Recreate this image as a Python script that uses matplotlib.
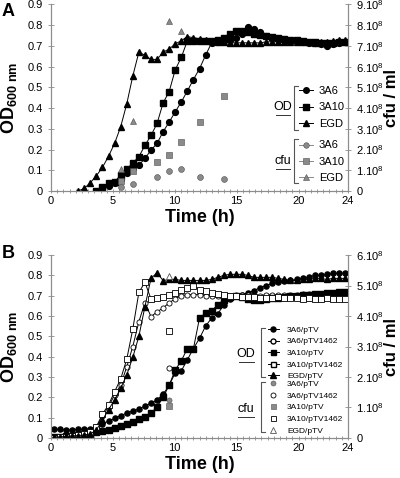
import matplotlib
matplotlib.use('Agg')
import matplotlib.pyplot as plt
from matplotlib.lines import Line2D
from matplotlib.ticker import MultipleLocator, FixedLocator, FuncFormatter

plt.rcParams['font.family'] = ['Liberation Sans', 'DejaVu Sans']
plt.rcParams['mathtext.fontset'] = 'custom'
plt.rcParams['mathtext.rm'] = 'Liberation Sans'
plt.rcParams['mathtext.bf'] = 'Liberation Sans:bold'

# sampling times (h) of the plate reader, same for every culture
t = [0.24, 0.73, 1.22, 1.71, 2.20, 2.69, 3.18, 3.67, 4.16, 4.65,
     5.14, 5.63, 6.12, 6.61, 7.10, 7.59, 8.08, 8.57, 9.06, 9.55,
     10.04, 10.53, 11.02, 11.51, 12.00, 12.49, 12.98, 13.47, 13.96, 14.45,
     14.94, 15.43, 15.92, 16.41, 16.90, 17.39, 17.88, 18.37, 18.86, 19.35,
     19.84, 20.33, 20.82, 21.31, 21.80, 22.29, 22.78, 23.27, 23.76]

# ---- panel A : OD600 ----
od_3a6_a = [0.008, 0.025, 0.04, 0.06, 0.085, 0.109, 0.125, 0.157, 0.197, 0.23,
            0.286, 0.333, 0.382, 0.43, 0.483, 0.538, 0.59, 0.655, 0.715, 0.72,
            0.725, 0.73, 0.74, 0.76, 0.79, 0.78, 0.765, 0.75, 0.74, 0.735,
            0.73, 0.725, 0.725, 0.72, 0.715, 0.715, 0.71, 0.70, 0.71, 0.715, 0.72]
od_3a10_a = [0.002, 0.02, 0.04, 0.045, 0.077, 0.104, 0.136, 0.165, 0.22, 0.268,
             0.326, 0.425, 0.48, 0.585, 0.645, 0.725, 0.725, 0.725, 0.725, 0.725,
             0.73, 0.74, 0.76, 0.77, 0.77, 0.765, 0.76, 0.755, 0.75, 0.745,
             0.74, 0.735, 0.73, 0.73, 0.725, 0.72, 0.72, 0.715, 0.715, 0.715, 0.72, 0.72]
od_egd_a = [0.0, 0.013, 0.04, 0.074, 0.114, 0.168, 0.23, 0.31, 0.42, 0.555,
            0.67, 0.655, 0.635, 0.635, 0.67, 0.685, 0.71, 0.725,
            0.745, 0.74, 0.735, 0.73, 0.725, 0.72, 0.72, 0.715, 0.715, 0.715,
            0.715, 0.715, 0.715, 0.72, 0.72, 0.72, 0.72, 0.72, 0.72, 0.72,
            0.72, 0.715, 0.72, 0.72, 0.725, 0.73, 0.73]
t_3a6_a = t[8:]
t_3a10_a = t[7:]
t_egd_a = t[4:]

# panel A : cfu (x 10^8 / ml)
cfu_t_a = [5.63, 6.61, 8.57, 9.55, 10.53, 12.00, 13.96]
cfu_3a6_a = [0.18, 0.35, 0.69, 0.96, 1.06, 0.69, 0.58]
cfu_3a10_a = [0.50, 0.98, 1.41, 1.73, 2.38, 3.31, 4.59]
cfu_t_egd_a = [5.63, 6.61, 9.55, 10.53]
cfu_egd_a = [1.06, 3.39, 8.2, 7.72]

# ---- panel B : OD600 ----
od_3a6_ptv = [0.045, 0.042, 0.040, 0.040, 0.042, 0.044, 0.046, 0.054, 0.07, 0.083,
              0.096, 0.11, 0.122, 0.133, 0.143, 0.157, 0.17, 0.187, 0.215, 0.26,
              0.32, 0.33, 0.385, 0.44, 0.49, 0.55, 0.59, 0.61, 0.655, 0.685,
              0.70, 0.705, 0.715, 0.725, 0.74, 0.75, 0.76, 0.765, 0.77, 0.775,
              0.78, 0.785, 0.79, 0.80, 0.80, 0.805, 0.81, 0.81, 0.81]
od_3a6_1462 = [0.005, 0.005, 0.008, 0.01, 0.015, 0.02, 0.03, 0.049, 0.109, 0.154,
               0.212, 0.26, 0.35, 0.45, 0.572, 0.666, 0.597, 0.62, 0.64, 0.665,
               0.685, 0.70, 0.705, 0.705, 0.705, 0.70, 0.70, 0.70, 0.70, 0.70,
               0.705, 0.705, 0.705, 0.70, 0.70, 0.705, 0.705, 0.705, 0.705, 0.705,
               0.705, 0.71, 0.71, 0.71, 0.71, 0.705, 0.705, 0.71, 0.71]
od_3a10_ptv = [0.005, 0.006, 0.008, 0.010, 0.013, 0.02, 0.023, 0.028, 0.036, 0.039,
               0.051, 0.059, 0.067, 0.077, 0.092, 0.105, 0.121, 0.154, 0.2, 0.26,
               0.335, 0.38, 0.44, 0.44, 0.59, 0.615, 0.625, 0.655, 0.68, 0.695,
               0.70, 0.695, 0.685, 0.68, 0.68, 0.685, 0.69, 0.69, 0.695, 0.70,
               0.70, 0.705, 0.705, 0.71, 0.71, 0.715, 0.715, 0.72, 0.72]
od_3a10_1462 = [0.0, 0.003, 0.006, 0.01, 0.015, 0.02, 0.03, 0.056, 0.118, 0.163,
                0.228, 0.29, 0.387, 0.536, 0.716, 0.766, 0.684, 0.687, 0.695, 0.704,
                0.712, 0.729, 0.74, 0.746, 0.73, 0.721, 0.715, 0.71, 0.705, 0.70,
                0.70, 0.695, 0.695, 0.695, 0.69, 0.69, 0.69, 0.695, 0.69, 0.69,
                0.69, 0.685, 0.69, 0.685, 0.685, 0.69, 0.685, 0.685, 0.685]
od_egd_ptv = [0.005, 0.005, 0.008, 0.01, 0.012, 0.015, 0.02, 0.04, 0.088, 0.14,
              0.187, 0.245, 0.31, 0.397, 0.5, 0.646, 0.785, 0.813, 0.774,
              0.78, 0.78, 0.775, 0.775, 0.775, 0.775, 0.775, 0.78, 0.79, 0.80,
              0.805, 0.805, 0.805, 0.80, 0.79, 0.79, 0.79, 0.79, 0.785, 0.78,
              0.775, 0.775, 0.78, 0.78, 0.785, 0.785, 0.78, 0.785, 0.785, 0.785]

# panel B : cfu (x 10^8 / ml), single sampling
cfu_t_b = [9.55]
cfu_3a6_ptv = [1.25]
cfu_3a6_1462 = [2.29]
cfu_3a10_ptv = [1.05]
cfu_3a10_1462 = [3.5]
cfu_egd_ptv = [5.3]

GREY = '#8a8a8a'
GREY_EDGE = '#4d4d4d'
SPINE = '#8c8c8c'


def cfu_fmt(v, pos):
    if v == 0:
        return '0'
    return r'$\mathrm{%d.10}^{8}$' % round(v)


def style_axes(ax, ax2, cfu_max):
    ax.set_xlim(0, 24)
    ax.set_ylim(0, 0.9)
    ax2.set_ylim(0, cfu_max)
    ax.xaxis.set_major_locator(FixedLocator([0, 5, 10, 15, 20, 24]))
    ax.xaxis.set_minor_locator(MultipleLocator(0.5))
    ax.yaxis.set_major_locator(MultipleLocator(0.1))
    ax.yaxis.set_major_formatter(FuncFormatter(lambda v, p: '0' if v == 0 else '%.1f' % v))
    ax2.yaxis.set_major_locator(MultipleLocator(1))
    ax2.yaxis.set_major_formatter(FuncFormatter(cfu_fmt))
    for a in (ax, ax2):
        for s in a.spines.values():
            s.set_color(SPINE)
            s.set_linewidth(0.8)
        a.spines['top'].set_visible(False)
    ax.tick_params(axis='x', which='both', direction='inout', length=3, width=0.6,
                   color=SPINE, labelsize=8, pad=2)
    ax.tick_params(axis='y', direction='inout', length=4, width=0.6, color=SPINE,
                   labelsize=8, pad=4)
    ax2.tick_params(axis='y', direction='inout', length=4, width=0.6, color=SPINE,
                    labelsize=8, pad=4)
    ax.set_xlabel('Time (h)', fontsize=13, fontweight='bold', labelpad=2)
    ax.set_ylabel(r'$\mathbf{OD}_{\mathbf{600\ nm}}$', fontsize=13, labelpad=6)
    ax2.set_ylabel('cfu / ml', fontsize=12, fontweight='bold', labelpad=0)


def bracket(ax, x, y0, y1, w=0.015):
    ax.plot([x + w, x, x, x + w], [y0, y0, y1, y1], transform=ax.transAxes,
            color='#555555', lw=0.8, clip_on=False)


def group_label(ax, x, y, s, fs, ulen):
    ax.text(x, y, s, transform=ax.transAxes, ha='center', va='center', fontsize=fs)
    ax.plot([x - ulen / 2, x + ulen / 2], [y - 0.042, y - 0.042], transform=ax.transAxes,
            color='#333333', lw=0.7, clip_on=False)


fig = plt.figure(figsize=(4.0, 4.78), dpi=100)
axA = fig.add_axes([0.1275, 0.6004, 0.7425, 0.3902])
axA2 = axA.twinx()
axB = fig.add_axes([0.1275, 0.0837, 0.7425, 0.3828])
axB2 = axB.twinx()

# ---------- panel A ----------
msA = 4.2
axA.plot(t_3a6_a, od_3a6_a, '-o', color='k', lw=0.7, ms=msA, zorder=3)
axA.plot(t_3a10_a, od_3a10_a, '-s', color='k', lw=0.7, ms=msA, zorder=3)
axA.plot(t_egd_a, od_egd_a, '-^', color='k', lw=0.7, ms=msA + 0.6, zorder=3)
axA2.plot(cfu_t_a, cfu_3a6_a, 'o', ls='none', mfc=GREY, mec=GREY_EDGE, mew=0.4, ms=msA)
axA2.plot(cfu_t_a, cfu_3a10_a, 's', ls='none', mfc=GREY, mec=GREY_EDGE, mew=0.4, ms=msA)
axA2.plot(cfu_t_egd_a, cfu_egd_a, '^', ls='none', mfc=GREY, mec=GREY_EDGE, mew=0.4, ms=msA + 0.6)
style_axes(axA, axA2, 9)

od_handles_a = [Line2D([], [], color='k', lw=0.7, marker=m, ms=4.0) for m in 'os^']
cfu_handles_a = [Line2D([], [], color=GREY, lw=0.7, marker=m, ms=4.0, mfc=GREY,
                        mec=GREY_EDGE, mew=0.4) for m in 'os^']
leg_kw = dict(frameon=False, fontsize=8, borderpad=0, borderaxespad=0,
              handlelength=1.3, handletextpad=0.5, labelspacing=0.55, loc='center left')
legA1 = axA2.legend(od_handles_a, ['3A6', '3A10', 'EGD'],
                    bbox_to_anchor=(0.835, 0.448), **leg_kw)
axA2.add_artist(legA1)
axA2.legend(cfu_handles_a, ['3A6', '3A10', 'EGD'],
            bbox_to_anchor=(0.835, 0.158), **leg_kw)
bracket(axA2, 0.818, 0.563, 0.327)
bracket(axA2, 0.818, 0.279, 0.043)
group_label(axA2, 0.781, 0.45, 'OD', 9, 0.05)
group_label(axA2, 0.781, 0.162, 'cfu', 9, 0.05)

# ---------- panel B ----------
msB = 3.7
axB.plot(t, od_3a6_ptv, '-o', color='k', lw=0.7, ms=msB, zorder=3)
axB.plot(t, od_3a6_1462, '-o', color='k', mfc='white', lw=0.7, ms=msB, mew=0.6, zorder=3)
axB.plot(t, od_3a10_ptv, '-s', color='k', lw=0.7, ms=msB, zorder=3)
axB.plot(t, od_3a10_1462, '-s', color='k', mfc='white', lw=0.7, ms=msB, mew=0.6, zorder=3)
axB.plot(t, od_egd_ptv, '-^', color='k', lw=0.7, ms=msB + 0.6, zorder=3)
axB2.plot(cfu_t_b, cfu_3a6_ptv, 'o', mfc=GREY, mec=GREY_EDGE, mew=0.4, ms=msB)
axB2.plot(cfu_t_b, cfu_3a6_1462, 'o', mfc='white', mec='k', mew=0.6, ms=msB)
axB2.plot(cfu_t_b, cfu_3a10_ptv, 's', mfc=GREY, mec=GREY_EDGE, mew=0.4, ms=msB)
axB2.plot(cfu_t_b, cfu_3a10_1462, 's', mfc='white', mec='k', mew=0.6, ms=msB)
axB2.plot(cfu_t_b, cfu_egd_ptv, '^', mfc='white', mec='#555555', mew=0.6, ms=msB + 0.6)
style_axes(axB, axB2, 6)

od_handles_b = [
    Line2D([], [], color='k', lw=0.7, marker='o', ms=3.6),
    Line2D([], [], color='k', lw=0.7, marker='o', ms=3.6, mfc='white'),
    Line2D([], [], color='k', lw=0.7, marker='s', ms=3.6),
    Line2D([], [], color='k', lw=0.7, marker='s', ms=3.6, mfc='white'),
    Line2D([], [], color='k', lw=0.7, marker='^', ms=4.0),
]
cfu_handles_b = [
    Line2D([], [], ls='none', marker='o', ms=3.6, mfc=GREY, mec=GREY_EDGE, mew=0.4),
    Line2D([], [], ls='none', marker='o', ms=3.6, mfc='white', mec='k', mew=0.6),
    Line2D([], [], ls='none', marker='s', ms=3.6, mfc=GREY, mec=GREY_EDGE, mew=0.4),
    Line2D([], [], ls='none', marker='s', ms=3.6, mfc='white', mec='k', mew=0.6),
    Line2D([], [], ls='none', marker='^', ms=4.0, mfc='white', mec='#555555', mew=0.6),
]
labels_b = ['3A6/pTV', '3A6/pTV1462', '3A10/pTV', '3A10/pTV1462', 'EGD/pTV']
leg_kw_b = dict(frameon=False, fontsize=6, borderpad=0, borderaxespad=0,
                handlelength=1.3, handletextpad=1.0, labelspacing=0.45, loc='center left')
legB1 = axB2.legend(od_handles_b, labels_b, bbox_to_anchor=(0.73, 0.464), **leg_kw_b)
axB2.add_artist(legB1)
axB2.legend(cfu_handles_b, labels_b, bbox_to_anchor=(0.73, 0.167), **leg_kw_b)
bracket(axB2, 0.706, 0.601, 0.333)
bracket(axB2, 0.706, 0.306, 0.033)
group_label(axB2, 0.657, 0.459, 'OD', 9, 0.05)
group_label(axB2, 0.657, 0.158, 'cfu', 9, 0.055)

fig.text(0.005, 0.975, 'A', fontsize=13, fontweight='bold', va='center')
fig.text(0.005, 0.47, 'B', fontsize=13, fontweight='bold', va='center')

fig.savefig('out.png', dpi=100)
